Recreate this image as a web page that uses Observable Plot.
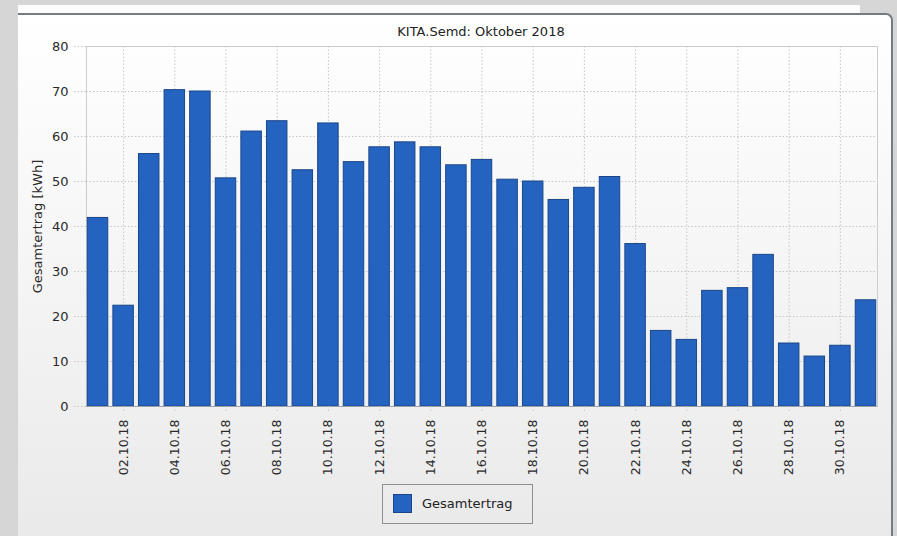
<!DOCTYPE html>
<html>
<head>
<meta charset="utf-8">
<script src="https://cdn.jsdelivr.net/npm/d3@7"></script>
<script src="https://cdn.jsdelivr.net/npm/@observablehq/plot@0.6"></script>
<style>
  html, body { margin: 0; padding: 0; }
  body { width: 897px; height: 536px; overflow: hidden; position: relative; background: #d6d6d6; font-family: "DejaVu Sans", sans-serif; }
  #strip { position: absolute; left: 18px; top: 5px; width: 842px; height: 8px; background: #fdfdfd; }
  #panel { position: absolute; left: 18px; top: 13px; width: 873px; height: 560px; border-top: 2px solid #737c82; border-right: 2px solid #737c82; border-top-right-radius: 7px; background: linear-gradient(#ffffff 0%, #f4f4f4 50%, #e8e8e8 100%); }
  #title { position: absolute; top: 24px; left: 0; width: 962px; text-align: center; font-size: 13px; color: #222; }
  #chart { position: absolute; left: 0; top: 0; }
  #legend { position: absolute; left: 382px; top: 484px; width: 151px; height: 40px; border: 1px solid #8a9096; box-sizing: border-box; }
  #legend .sw { position: absolute; left: 10px; top: 9px; width: 17px; height: 17px; background: #2563c1; border: 1px solid #1a4688; }
  #legend .lb { position: absolute; left: 39px; top: 11px; font-size: 13px; color: #222; }
</style>
</head>
<body>
<div id="strip"></div>
<div id="panel"></div>
<div id="title">KITA.Semd: Oktober 2018</div>
<div id="chart"></div>
<div id="legend"><div class="sw"></div><div class="lb">Gesamtertrag</div></div>
<script>
const days = [1,2,3,4,5,6,7,8,9,10,11,12,13,14,15,16,17,18,19,20,21,22,23,24,25,26,27,28,29,30,31];
const gesamtertrag = [41.9,22.4,56.1,70.3,70.0,50.7,61.1,63.4,52.5,62.9,54.3,57.6,58.7,57.6,53.6,54.8,50.4,50.0,45.9,48.6,51.0,36.1,16.8,14.8,25.7,26.3,33.7,14.0,11.1,13.5,23.6];
const labelDays = [2,4,6,8,10,12,14,16,18,20,22,24,26,28,30];
const yTicks = [0,10,20,30,40,50,60,70,80];
const yGrid = [10,20,30,40,50,60,70];
const seriesName = "Gesamtertrag";
const yLabel = "Gesamtertrag [kWh]";

const data = days.map((d, i) => ({day: d, value: gesamtertrag[i]}));
const fmt = d => String(d).padStart(2, "0") + ".10.18";

const chart = Plot.plot({
  width: 897,
  height: 490,
  marginLeft: 86,
  marginRight: 20,
  marginTop: 46,
  marginBottom: 84,
  style: {fontFamily: "DejaVu Sans", fontSize: "12.5px", color: "#2a2a2a", background: "transparent", overflow: "visible"},
  x: {type: "band", domain: days, paddingInner: 0.2, paddingOuter: 0.05, align: 0.5, round: false},
  y: {domain: [0, 80]},
  marks: [
    Plot.gridY(yGrid, {stroke: "#c6c6c6", strokeOpacity: 1, strokeDasharray: "1.5,2"}),
    Plot.gridX(labelDays, {stroke: "#c6c6c6", strokeOpacity: 1, strokeDasharray: "1.5,2"}),
    Plot.frame({stroke: "#c9cdd0"}),
    Plot.barY(data, {x: "day", y: "value", fill: "#2563c1", stroke: "#1a4688", strokeWidth: 1}),
    Plot.ruleY([0], {stroke: "#9aa0a6"}),
    Plot.axisY({ticks: yTicks, tickSize: 13, tickPadding: 5, stroke: "#c6c6c6", strokeDasharray: "1.5,2",
      label: yLabel, labelAnchor: "center", labelArrow: "none", labelOffset: 54, fontSize: 13}),
    Plot.axisX({ticks: labelDays, tickFormat: fmt, tickRotate: -90, tickSize: 7, tickPadding: 6,
      stroke: "#c6c6c6", strokeDasharray: "1.5,2", label: null})
  ]
});
document.getElementById("chart").appendChild(chart);
</script>
</body>
</html>
